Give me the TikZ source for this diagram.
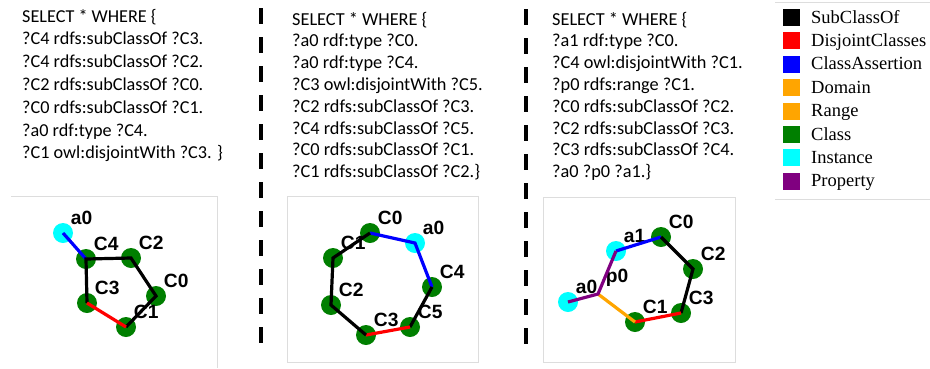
\documentclass[tikz,border=0pt]{standalone}
\usepackage{fontspec}
\newfontfamily\qfont{Carlito}
\newfontfamily\keyfont{Liberation Serif}
\newfontfamily\vfont{Liberation Sans}
\usepackage{tikz}
\usetikzlibrary{positioning}
\definecolor{clsgreen}{HTML}{007F00}
\definecolor{instcyan}{HTML}{00FFFF}
\definecolor{domorange}{HTML}{FFA500}
\definecolor{proppurple}{HTML}{800080}
\definecolor{framegray}{HTML}{DDDDDD}

\begin{document}
\begin{tikzpicture}[x=1pt,y=-1pt,
  cls/.style={circle,fill=clsgreen,minimum size=20pt,inner sep=0pt},
  inst/.style={circle,fill=instcyan,minimum size=20pt,inner sep=0pt},
  junc/.style={circle,minimum size=20pt,inner sep=0pt},
  every label/.style={font=\vfont\bfseries\fontsize{19.2}{20}\selectfont,inner sep=0.5pt},
  edge/.style={line width=3.2pt},
  query/.style={align=left,inner sep=0pt,anchor=base west},
  sep/.style={line width=4.7pt,dash pattern=on 16pt off 13pt},
  frame/.style={draw=framegray,line width=0.8pt}]
  \useasboundingbox (0,0) rectangle (930,368);

  % queries (base = last line)
  \node[query,font={\qfont\fontsize{18.2}{22.8}\selectfont}] (q1) at (22,158.8) {SELECT * WHERE \{\\?C4 rdfs:subClassOf ?C3.\\?C4 rdfs:subClassOf ?C2.\\?C2 rdfs:subClassOf ?C0.\\?C0 rdfs:subClassOf ?C1.\\?a0 rdf:type ?C4.\\?C1 owl:disjointWith ?C3. \}};
  \node[query,font={\qfont\fontsize{18.3}{21.8}\selectfont}] (q2) at (292,177.6) {SELECT * WHERE \{\\?a0 rdf:type ?C0.\\?a0 rdf:type ?C4.\\?C3 owl:disjointWith ?C5.\\?C2 rdfs:subClassOf ?C3.\\?C4 rdfs:subClassOf ?C5.\\?C0 rdfs:subClassOf ?C1.\\?C1 rdfs:subClassOf ?C2.\}};
  \node[query,font={\qfont\fontsize{18.3}{21.8}\selectfont}] (q3) at (552,177.6) {SELECT * WHERE \{\\?a1 rdf:type ?C0.\\?C4 owl:disjointWith ?C1.\\?p0 rdfs:range ?C1.\\?C0 rdfs:subClassOf ?C2.\\?C2 rdfs:subClassOf ?C3.\\?C3 rdfs:subClassOf ?C4.\\?a0 ?p0 ?a1.\}};

  \draw[sep] (261,8) -- (261,345);
  \draw[sep] (526,9) -- (526,346);

  % frames
  \draw[frame] (11,196) -- (217,196) -- (217,368);
  \draw[frame] (287,196) rectangle (478,362);
  \draw[frame] (543,197) rectangle (735,362);
  \draw[frame] (775,2) -- (930,2);
  \draw[frame] (775,199) -- (930,199);

  % first graph
  \node[inst] (a0) at (63,233)[label=above right:a0]{};
  \node[cls] (c4) at (86,259)[label=above right:C4]{};
  \node[cls] (c2) at (131,258)[label=above right:C2]{};
  \node[cls] (c0) at (156,296)[label=above right:C0]{};
  \node[cls] (c1) at (126,327)[label=above right:C1]{};
  \node[cls] (c3) at (87,303)[label=above right:C3]{};
  \draw[edge,blue](a0.center)--(c4.center);
  \draw[edge](c3.center)--(c4.center)--(c2.center)--(c0.center)--(c1.center);
  \draw[edge,red](c1.center)--(c3.center);

  % second graph
  \node[cls] (b0) at (370,233)[label=above right:C0]{};
  \node[inst] (ba0) at (415,243)[label=above right:a0]{};
  \node[cls] (b4) at (432,287)[label=above right:C4]{};
  \node[cls] (b5) at (410,327)[label=above right:C5]{};
  \node[cls] (b3) at (366,335)[label=above right:C3]{};
  \node[cls] (b2) at (331,305)[label=above right:C2]{};
  \node[cls] (b1) at (333,258)[label=above right:C1]{};
  \draw[edge,blue](b0.center)--(ba0.center)--(b4.center);
  \draw[edge](b4.center)--(b5.center);
  \draw[edge,red](b5.center)--(b3.center);
  \draw[edge](b3.center)--(b2.center)--(b1.center)--(b0.center);

  % third graph
  \node[inst] (da1) at (616,251)[label=above right:a1]{};
  \node[cls] (d0) at (661,237)[label=above right:C0]{};
  \node[cls] (d2) at (693,269)[label=above right:C2]{};
  \node[cls] (d3) at (681,313)[label=above right:C3]{};
  \node[cls] (d1) at (635,322)[label=above right:C1]{};
  \node[junc] (dp0) at (598,294)[label=above right:p0]{};
  \node[inst] (da0) at (568,302)[label=above right:a0]{};
  \draw[edge,blue](da1.center)--(d0.center);
  \draw[edge](d0.center)--(d2.center)--(d3.center);
  \draw[edge,red](d3.center)--(d1.center);
  \draw[edge,domorange](d1.center)--(dp0.center);
  \draw[edge,proppurple](da0.center)--(dp0.center)--(da1.center);

  % legend
  \foreach \col/\txt [count=\i] in {black/SubClassOf,red/DisjointClasses,blue/ClassAssertion,domorange/Domain,domorange/Range,clsgreen/Class,instcyan/Instance,proppurple/Property}{
    \node[fill=\col,minimum size=17pt,inner sep=0pt] (k\i) at (791,{17.5+23.4*(\i-1)}) {};
    \node[anchor=base west,inner sep=0pt,font={\keyfont\fontsize{18.5}{20}\selectfont}] (t\i) at (811,{23+23.4*(\i-1)}) {\txt};
  }
\end{tikzpicture}
\end{document}
